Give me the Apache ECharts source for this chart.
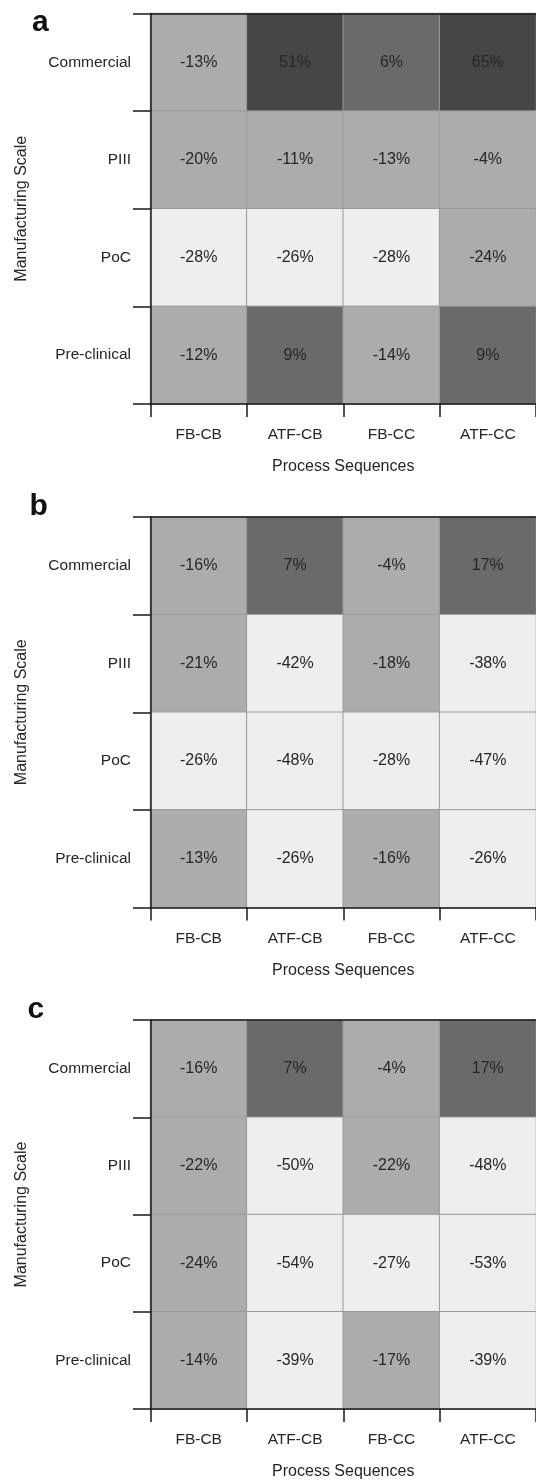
<!DOCTYPE html>
<html>
<head>
<meta charset="utf-8">
<script src="https://cdn.jsdelivr.net/npm/echarts@6/dist/echarts.min.js"></script>
<style>
html,body{margin:0;padding:0;background:#fff;}
#chart{width:536px;height:1481px;}
</style>
</head>
<body>
<div id="chart"></div>
<script>
// ---- data ----
const processSequences = ['FB-CB', 'ATF-CB', 'FB-CC', 'ATF-CC'];
const manufacturingScales = ['Commercial', 'PIII', 'PoC', 'Pre-clinical'];
const panelLabels = ['a', 'b', 'c'];

// rows follow manufacturingScales, columns follow processSequences (values in %)
const panelA = [
  [-13, 51, 6, 65],
  [-20, -11, -13, -4],
  [-28, -26, -28, -24],
  [-12, 9, -14, 9]
];
const panelB = [
  [-16, 7, -4, 17],
  [-21, -42, -18, -38],
  [-26, -48, -28, -47],
  [-13, -26, -16, -26]
];
const panelC = [
  [-16, 7, -4, 17],
  [-22, -50, -22, -48],
  [-24, -54, -27, -53],
  [-14, -39, -17, -39]
];
const panels = [panelA, panelB, panelC];

// ---- layout / style ----
const FONT = '"Liberation Sans", Arial, Helvetica, sans-serif';
const gridTops = [13.5, 517, 1020];
const labelY = [24.5, 508.5, 1011.5];
const labelX = [32, 29.5, 27.5];
const axisColor = '#1a1a1a';
const textColor = '#262626';

function toCells(matrix) {
  const out = [];
  matrix.forEach((row, r) => row.forEach((v, c) => out.push([c, r, v])));
  return out;
}

const grids = [], xAxes = [], yAxes = [], series = [], graphics = [];
panels.forEach((m, i) => {
  grids.push({ left: 150.5, top: gridTops[i], width: 390, height: 390.5 });
  xAxes.push({
    type: 'category', gridIndex: i, data: processSequences, position: 'bottom', z: 5,
    axisLine: { show: true, lineStyle: { color: axisColor, width: 1.5 } },
    axisTick: { show: true, length: 13, lineStyle: { color: axisColor, width: 1.5 } },
    axisLabel: { margin: 23, fontSize: 15.5, color: textColor, fontFamily: FONT },
    splitLine: { show: false },
    name: 'Process Sequences', nameLocation: 'middle', nameGap: 55,
    nameTextStyle: { fontSize: 16, color: textColor, fontFamily: FONT }
  });
  xAxes.push({
    type: 'category', gridIndex: i, data: processSequences, position: 'top', z: 5,
    axisLine: { show: true, lineStyle: { color: axisColor, width: 1.5 } },
    axisTick: { show: false }, axisLabel: { show: false }, splitLine: { show: false }
  });
  yAxes.push({
    type: 'category', gridIndex: i, data: manufacturingScales, inverse: true, z: 5,
    axisLine: { show: true, lineStyle: { color: axisColor, width: 1.5 } },
    axisTick: { show: true, length: 17.5, lineStyle: { color: axisColor, width: 1.5 } },
    axisLabel: { margin: 19.5, fontSize: 15.5, color: textColor, fontFamily: FONT },
    splitLine: { show: false },
    name: 'Manufacturing Scale', nameLocation: 'middle', nameGap: 121,
    nameTextStyle: { fontSize: 16, color: textColor, fontFamily: FONT }
  });
  series.push({
    type: 'heatmap', xAxisIndex: i * 2, yAxisIndex: i,
    data: toCells(m),
    itemStyle: { borderColor: '#9a9a9a', borderWidth: 1 },
    label: {
      show: true, fontSize: 16, color: textColor, fontFamily: FONT,
      formatter: p => p.value[2] + '%'
    },
    emphasis: { disabled: true }
  });
  graphics.push({
    type: 'text', left: labelX[i], top: labelY[i] - 17,
    style: { text: panelLabels[i], font: 'bold 30px ' + FONT, fill: '#111' }
  });
});

const chart = echarts.init(document.getElementById('chart'), null, { renderer: 'canvas' });
chart.setOption({
  animation: false,
  backgroundColor: '#ffffff',
  grid: grids,
  xAxis: xAxes,
  yAxis: yAxes,
  visualMap: {
    show: false, type: 'piecewise', seriesIndex: [0, 1, 2], dimension: 2,
    pieces: [
      { lt: -25, color: '#eeeeee' },
      { gte: -25, lt: 0, color: '#acacac' },
      { gte: 0, lt: 20, color: '#6a6a6a' },
      { gte: 20, color: '#464646' }
    ]
  },
  graphic: graphics,
  series: series
});
</script>
</body>
</html>
